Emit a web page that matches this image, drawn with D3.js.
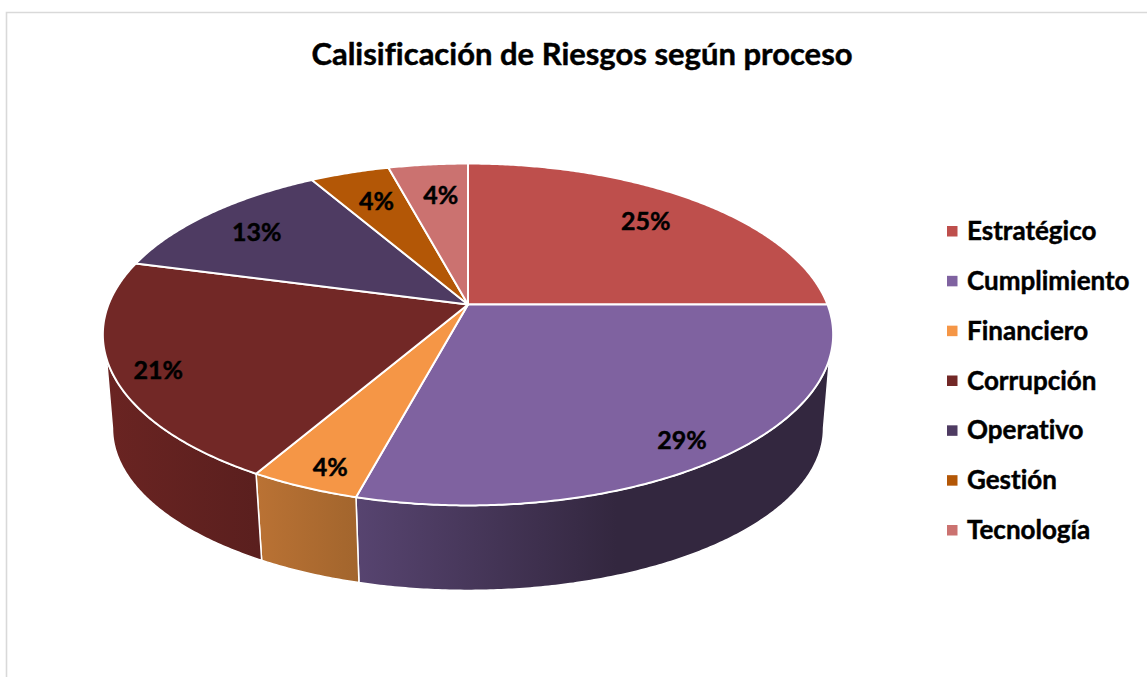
<!DOCTYPE html>
<html><head><meta charset="utf-8">
<script src="https://cdn.jsdelivr.net/npm/d3@7/dist/d3.min.js"></script>
<style>html,body{margin:0;padding:0;background:#fff}svg{display:block}text{font-family:Lato,"Open Sans",sans-serif;font-weight:700;fill:#000;stroke:#000;stroke-width:0.45px;font-variant-ligatures:none;font-feature-settings:"liga" 0,"dlig" 0}</style>
</head><body><div id="chart"></div>
<script>
const title = "Calisificación de Riesgos según proceso";
const categories = ["Estratégico","Cumplimiento","Financiero","Corrupción","Operativo","Gestión","Tecnología"];
const counts = [6,7,1,5,3,1,1];
const colors = ["#be4f4c","#7f62a0","#f59646","#722826","#4e3b62","#b35706","#cb7270"];
const wallFrom = ["#8a3a38","#574470","#ba7234","#6a2422","#3a2c4a","#8a4305","#96504e"];
const wallTo = ["#8a3a38","#33273f","#a2652d","#5a1f1e","#3a2c4a","#8a4305","#96504e"];
const labelRadius = [0.785,0.85,0.909,0.88,0.78,0.755,0.75];
const labelNudgeX = [-4,3,9,1,-6,1,4];
const labelNudgeY = [1,9,0,6,0,0,0];

const W=1147,H=677;
const svg=d3.select("#chart").append("svg").attr("width",W).attr("height",H);
const k=0.1754, cx=468;
const topFace={y0:304.5,a:165.7,b:359.5};
const botFace={y0:400,a:157,b:350};
const project=(f,t,r=1)=>{const u=r*Math.sin(t),v=-r*Math.cos(t),d=1-k*v;return [cx+f.b*u/d,f.y0+f.a*v/d];};
const deg=d=>d*Math.PI/180;
const arcPts=(f,t0,t1)=>{const n=Math.max(2,Math.ceil(Math.abs(t1-t0)/deg(0.5)));return d3.range(n+1).map(i=>project(f,t0+(t1-t0)*i/n));};
const line=d3.line();
const pie=d3.pie().sort(null).startAngle(0).endAngle(2*Math.PI)(counts);
const total=d3.sum(counts);
const fmt=d3.format(".0%");

const defs=svg.append("defs");
// frame
svg.append("path").attr("d",line([[6.5,H],[6.5,12.5],[W,12.5]])).attr("fill","none").attr("stroke","#d9d9d9").attr("stroke-width",1.6);

// walls
const wTopA=deg(108),wTopB=deg(252),wBotA=deg(100.1),wBotB=deg(259.9);
pie.forEach((s,i)=>{
  if(s.endAngle<=wTopA||s.startAngle>=wTopB) return;
  const ta=Math.max(s.startAngle,wTopA),tb=Math.min(s.endAngle,wTopB);
  const ba=Math.max(s.startAngle,wBotA),bb=Math.min(s.endAngle,wBotB);
  const pts=arcPts(topFace,ta,tb).concat(arcPts(botFace,bb,ba));
  const xs=pts.map(p=>p[0]);
  const id="w"+i;
  const g=defs.append("linearGradient").attr("id",id).attr("gradientUnits","userSpaceOnUse")
    .attr("x1",d3.min(xs)).attr("x2",d3.max(xs)).attr("y1",0).attr("y2",0);
  g.append("stop").attr("offset",0).attr("stop-color",wallFrom[i]);
  g.append("stop").attr("offset",i===1?0.55:1).attr("stop-color",wallTo[i]);
  svg.append("path").attr("d",line(pts)+"Z").attr("fill",`url(#${id})`).attr("stroke","#fff").attr("stroke-width",1.5).attr("stroke-linejoin","round");
});
// top slices
const apex=project(topFace,0,0);
pie.forEach((s,i)=>{
  const pts=[apex].concat(arcPts(topFace,s.startAngle,s.endAngle));
  svg.append("path").attr("d",line(pts)+"Z").attr("fill",colors[i]).attr("stroke","#fff").attr("stroke-width",2).attr("stroke-linejoin","round");
});
// labels
pie.forEach((s,i)=>{
  const p=project(topFace,(s.startAngle+s.endAngle)/2,labelRadius[i]);
  svg.append("text").attr("x",p[0]+labelNudgeX[i]).attr("y",p[1]+labelNudgeY[i]).attr("dy","0.35em")
    .attr("text-anchor","middle").attr("font-size",25).text(fmt(s.value/total));
});
// title
svg.append("text").attr("x",582).attr("y",65).attr("text-anchor","middle").attr("font-size",31).text(title);
// legend
const legY=d3.scalePoint().domain(categories).range([231,530]);
categories.forEach((c,i)=>{
  svg.append("rect").attr("x",947).attr("y",legY(c)-5).attr("width",10.5).attr("height",10.5).attr("fill",colors[i]);
  svg.append("text").attr("x",967).attr("y",legY(c)).attr("dy","0.35em").attr("font-size",26).text(c);
});
</script></body></html>
